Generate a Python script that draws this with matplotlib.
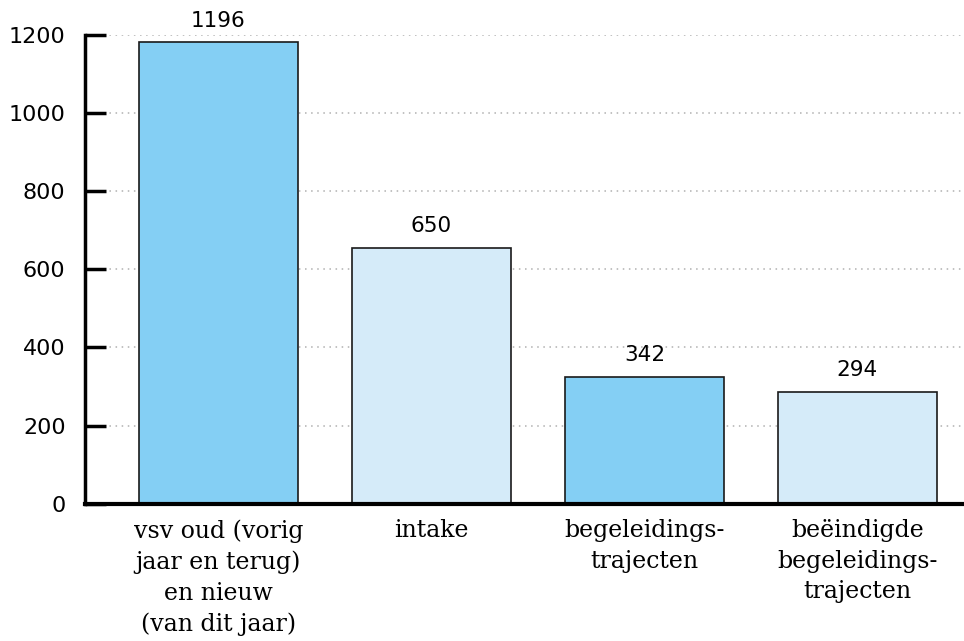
import matplotlib.pyplot as plt

categories = ["vsv oud (vorig\njaar en terug)\nen nieuw\n(van dit jaar)",
              "intake",
              "begeleidings-\ntrajecten",
              "beëindigde\nbegeleidings-\ntrajecten"]
# bar heights as drawn in the picture, and the numbers printed above them
bar_heights = [1180, 654, 325, 286]
value_labels = ["1196", "650", "342", "294"]
bar_colors = ["#84cff4", "#d5ebf9", "#84cff4", "#d5ebf9"]
yticks = [0, 200, 400, 600, 800, 1000, 1200]

fig = plt.figure(figsize=(9.64, 6.41), dpi=100)
ax = fig.add_axes([0.0882, 0.214, 0.9118, 0.732])

x = range(len(categories))
bars = ax.bar(x, bar_heights, width=0.744, color=bar_colors,
              edgecolor="#1a1a1a", linewidth=1.2, zorder=3)

for b, lab in zip(bars, value_labels):
    ax.text(b.get_x() + b.get_width() / 2, b.get_height() + 30, lab,
            ha="center", va="bottom", fontsize=15.5, family="DejaVu Sans")

ax.set_xlim(-0.626, 3.5)
ax.set_ylim(0, 1200)
ax.set_yticks(yticks)
ax.set_yticklabels([str(t) for t in yticks], fontsize=16, family="DejaVu Sans")
ax.tick_params(axis="y", direction="in", length=15, width=2.5, pad=14)

ax.set_xticks(list(x))
ax.set_xticklabels(categories, fontsize=17, family="DejaVu Serif",
                   linespacing=1.42)
ax.tick_params(axis="x", length=0, pad=11)

ax.yaxis.grid(True, linestyle=(0, (1, 3)), color="#b0b0b0", linewidth=1.1, zorder=0)
ax.set_axisbelow(True)

for s in ["top", "right"]:
    ax.spines[s].set_visible(False)
ax.spines["left"].set_linewidth(2.5)
ax.spines["bottom"].set_linewidth(3)
ax.spines["bottom"].set_zorder(4)

fig.savefig("out.png", dpi=100)
